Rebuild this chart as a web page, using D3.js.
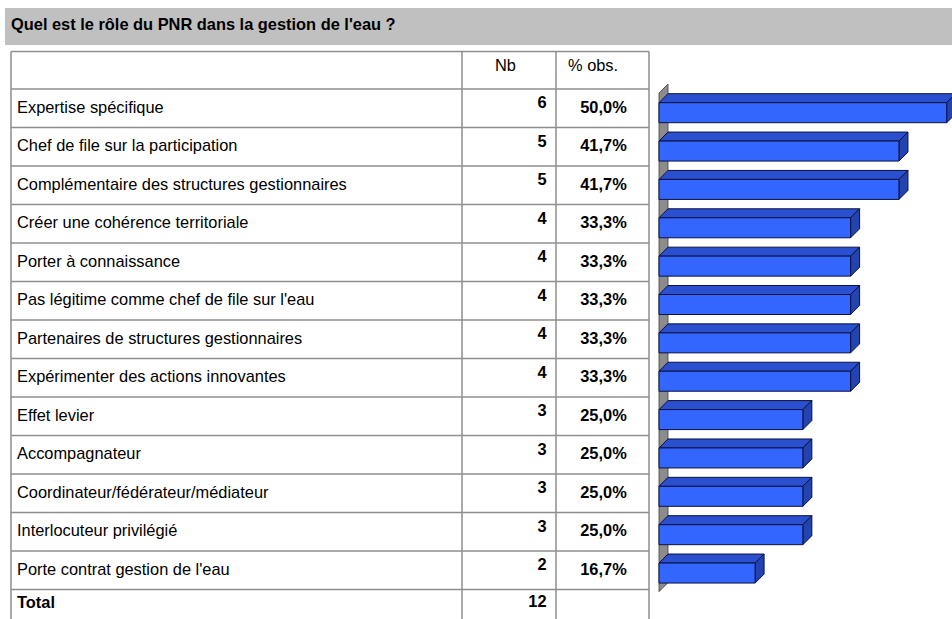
<!DOCTYPE html>
<html>
<head>
<meta charset="utf-8">
<script src="https://cdn.jsdelivr.net/npm/d3@7"></script>
<style>
  body { margin: 0; background: #fff; }
  svg { display: block; }
  text { font-family: "Liberation Sans", Arial, Helvetica, sans-serif; fill: #000; }
</style>
</head>
<body>
<svg id="chart" width="952" height="619"></svg>
<script>
// ---- data ----
const title = "Quel est le rôle du PNR dans la gestion de l'eau ?";
const headers = ["Nb", "% obs."];
const categories = [
  "Expertise spécifique",
  "Chef de file sur la participation",
  "Complémentaire des structures gestionnaires",
  "Créer une cohérence territoriale",
  "Porter à connaissance",
  "Pas légitime comme chef de file sur l'eau",
  "Partenaires de structures gestionnaires",
  "Expérimenter des actions innovantes",
  "Effet levier",
  "Accompagnateur",
  "Coordinateur/fédérateur/médiateur",
  "Interlocuteur privilégié",
  "Porte contrat gestion de l'eau"
];
const counts = [6, 5, 5, 4, 4, 4, 4, 4, 3, 3, 3, 3, 2];
const percents = [50.0, 41.7, 41.7, 33.3, 33.3, 33.3, 33.3, 33.3, 25.0, 25.0, 25.0, 25.0, 16.7];
const totalLabel = "Total";
const totalCount = 12;

// ---- layout ----
const svg = d3.select("#chart");
const fmtPct = v => d3.format(".1f")(v).replace(".", ",") + "%";
const fs = 16.4;

const table = { left: 11, right: 649, top: 51.5, headerBottom: 89, bottom: 619 };
const colNb = 462, colPct = 556;
const rowH = 38.5;

const rowY = d3.scaleBand()
  .domain(categories)
  .range([table.headerBottom, table.headerBottom + rowH * categories.length]);
const totalTop = rowY.range()[1];

// title band
svg.append("rect")
  .attr("x", 5).attr("y", 8).attr("width", 947).attr("height", 37)
  .attr("fill", "#c0c0c0");
svg.append("text")
  .attr("x", 11).attr("y", 30)
  .attr("font-size", fs).attr("font-weight", "bold")
  .text(title);

// table grid
const grid = svg.append("g")
  .attr("stroke", "#8e8e8e").attr("stroke-width", 1.5).attr("fill", "none");
const hLines = [table.top, table.headerBottom, ...categories.map(c => rowY(c) + rowY.bandwidth())];
grid.selectAll("line.h").data(hLines).join("line")
  .attr("class", "h")
  .attr("x1", table.left).attr("x2", table.right)
  .attr("y1", d => d).attr("y2", d => d);
grid.selectAll("line.v").data([table.left, colNb, colPct, table.right]).join("line")
  .attr("class", "v")
  .attr("x1", d => d).attr("x2", d => d)
  .attr("y1", table.top).attr("y2", table.bottom);

// headers
svg.append("text").attr("x", 495).attr("y", 70.7).attr("font-size", fs).text(headers[0]);
svg.append("text").attr("x", 568).attr("y", 70.7).attr("font-size", fs).text(headers[1]);

// rows
const rows = svg.append("g").selectAll("g.row")
  .data(categories.map((c, i) => ({ c, n: counts[i], p: percents[i] })))
  .join("g").attr("class", "row")
  .attr("transform", d => `translate(0,${rowY(d.c)})`);
rows.append("text")
  .attr("x", 17).attr("y", 23.7).attr("font-size", fs)
  .text(d => d.c);
rows.append("text")
  .attr("x", 546.5).attr("y", 19.4).attr("font-size", fs).attr("font-weight", "bold")
  .attr("text-anchor", "end")
  .text(d => d.n);
rows.append("text")
  .attr("x", 603.5).attr("y", 23.7).attr("font-size", fs).attr("font-weight", "bold")
  .attr("text-anchor", "middle")
  .text(d => fmtPct(d.p));

// total row
svg.append("text").attr("x", 17).attr("y", totalTop + 18.5)
  .attr("font-size", fs).attr("font-weight", "bold").text(totalLabel);
svg.append("text").attr("x", 546.5).attr("y", totalTop + 17.2)
  .attr("font-size", fs).attr("font-weight", "bold").attr("text-anchor", "end")
  .text(totalCount);

// ---- 3D bar chart ----
const depth = 9;
const barH = 20;
const barOffset = 9.7;
const x = d3.scaleLinear().domain([0, 50]).range([659, 946.7]);
const barY = d3.scaleBand().domain(categories).range([93, 591.7]);

// side wall
const [wTop, wBot] = barY.range();
const x0 = x(0);
svg.append("path")
  .attr("d", `M${x0},${wTop} L${x0 + depth},${wTop - depth} L${x0 + depth},${wBot - depth} L${x0},${wBot} Z`)
  .attr("fill", "#8c8c8c").attr("stroke", "#404040").attr("stroke-width", 0.8);

const bars = svg.append("g").selectAll("g.bar")
  .data(categories.map((c, i) => ({ c, p: percents[i] })))
  .join("g").attr("class", "bar")
  .attr("stroke", "#0b1240").attr("stroke-width", 1).attr("stroke-linejoin", "round");

// top face
bars.append("path")
  .attr("fill", "#2a4fcf")
  .attr("d", d => {
    const y = barY(d.c) + barOffset, x1 = x(d.p);
    return `M${x0},${y} L${x1},${y} L${x1 + depth},${y - depth} L${x0 + depth},${y - depth} Z`;
  });
// right face
bars.append("path")
  .attr("fill", "#2243b0")
  .attr("d", d => {
    const y = barY(d.c) + barOffset, x1 = x(d.p);
    return `M${x1},${y} L${x1 + depth},${y - depth} L${x1 + depth},${y - depth + barH} L${x1},${y + barH} Z`;
  });
// front face
bars.append("rect")
  .attr("fill", "#3366ff")
  .attr("x", x0)
  .attr("y", d => barY(d.c) + barOffset)
  .attr("width", d => x(d.p) - x0)
  .attr("height", barH);
</script>
</body>
</html>
